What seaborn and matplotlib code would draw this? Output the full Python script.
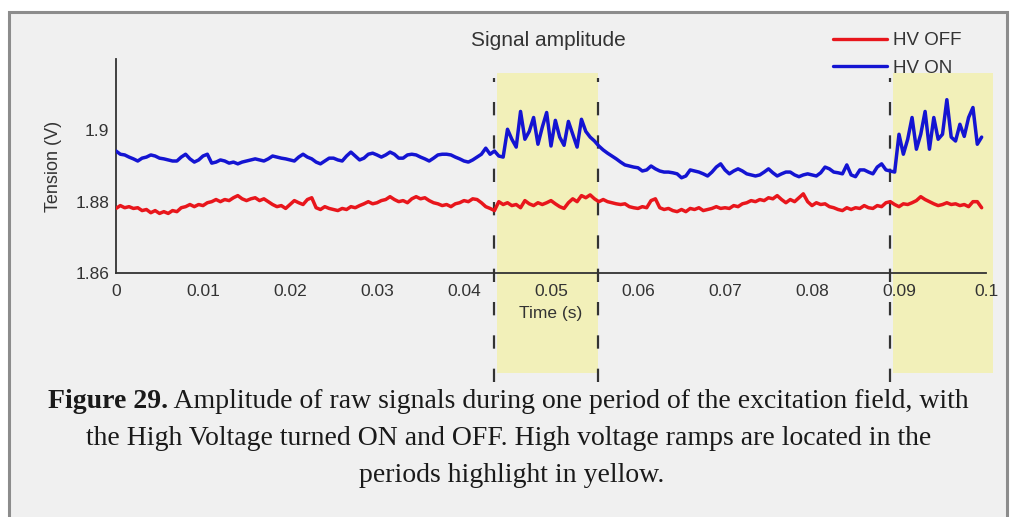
import numpy as np
import pandas as pd
import matplotlib
matplotlib.use("Agg")
import matplotlib.pyplot as plt
import seaborn as sns
from matplotlib.patches import Rectangle
from matplotlib.lines import Line2D

# =====================
# DATA (read off the scope capture, one sample every 0.5 ms)
# =====================
time_step = 0.0005
n_samples = 200

hv_off = [
    1.8781, 1.8789, 1.8783, 1.8786, 1.8781, 1.8783, 1.8775, 1.8778, 1.8769, 1.8775,
    1.8767, 1.8772, 1.8767, 1.8775, 1.8772, 1.8783, 1.8786, 1.8792, 1.8786, 1.8792,
    1.8789, 1.8797, 1.8800, 1.8806, 1.8800, 1.8806, 1.8803, 1.8811, 1.8817, 1.8808,
    1.8803, 1.8808, 1.8811, 1.8803, 1.8808, 1.8800, 1.8792, 1.8786, 1.8789, 1.8781,
    1.8792, 1.8803, 1.8797, 1.8792, 1.8806, 1.8811, 1.8783, 1.8778, 1.8786, 1.8781,
    1.8778, 1.8775, 1.8781, 1.8778, 1.8786, 1.8783, 1.8789, 1.8794, 1.8800, 1.8794,
    1.8797, 1.8803, 1.8806, 1.8814, 1.8806, 1.8800, 1.8803, 1.8797, 1.8808, 1.8814,
    1.8808, 1.8811, 1.8803, 1.8797, 1.8794, 1.8789, 1.8792, 1.8786, 1.8794, 1.8797,
    1.8803, 1.8800, 1.8808, 1.8806, 1.8797, 1.8786, 1.8781, 1.8775, 1.8800, 1.8792,
    1.8797, 1.8789, 1.8792, 1.8783, 1.8803, 1.8794, 1.8789, 1.8797, 1.8792, 1.8797,
    1.8803, 1.8794, 1.8786, 1.8781, 1.8797, 1.8808, 1.8800, 1.8817, 1.8811, 1.8819,
    1.8808, 1.8800, 1.8806, 1.8800, 1.8797, 1.8794, 1.8792, 1.8794, 1.8786, 1.8783,
    1.8781, 1.8786, 1.8783, 1.8803, 1.8808, 1.8783, 1.8778, 1.8781, 1.8775, 1.8772,
    1.8778, 1.8772, 1.8781, 1.8778, 1.8783, 1.8775, 1.8778, 1.8781, 1.8786, 1.8781,
    1.8783, 1.8781, 1.8789, 1.8786, 1.8794, 1.8797, 1.8803, 1.8800, 1.8806, 1.8803,
    1.8811, 1.8808, 1.8817, 1.8806, 1.8797, 1.8806, 1.8800, 1.8811, 1.8822, 1.8800,
    1.8789, 1.8797, 1.8792, 1.8794, 1.8786, 1.8783, 1.8778, 1.8775, 1.8783, 1.8778,
    1.8783, 1.8781, 1.8789, 1.8783, 1.8781, 1.8789, 1.8786, 1.8797, 1.8800, 1.8792,
    1.8786, 1.8794, 1.8792, 1.8797, 1.8803, 1.8814, 1.8806, 1.8800, 1.8794, 1.8789,
    1.8792, 1.8797, 1.8792, 1.8794, 1.8789, 1.8792, 1.8786, 1.8800, 1.8800, 1.8783,
]

hv_on = [
    1.8942, 1.8933, 1.8931, 1.8925, 1.8920, 1.8914, 1.8922, 1.8925, 1.8931, 1.8928,
    1.8922, 1.8920, 1.8917, 1.8914, 1.8914, 1.8925, 1.8933, 1.8920, 1.8911, 1.8917,
    1.8928, 1.8933, 1.8908, 1.8911, 1.8917, 1.8914, 1.8908, 1.8911, 1.8906, 1.8911,
    1.8914, 1.8917, 1.8920, 1.8917, 1.8914, 1.8920, 1.8928, 1.8925, 1.8922, 1.8920,
    1.8917, 1.8914, 1.8925, 1.8933, 1.8925, 1.8920, 1.8911, 1.8906, 1.8914, 1.8922,
    1.8922, 1.8917, 1.8914, 1.8928, 1.8939, 1.8928, 1.8917, 1.8922, 1.8933, 1.8936,
    1.8931, 1.8925, 1.8931, 1.8939, 1.8933, 1.8922, 1.8922, 1.8931, 1.8933, 1.8931,
    1.8925, 1.8920, 1.8914, 1.8922, 1.8931, 1.8933, 1.8933, 1.8931, 1.8925, 1.8920,
    1.8914, 1.8911, 1.8917, 1.8925, 1.8933, 1.8950, 1.8933, 1.8942, 1.8928, 1.8925,
    1.9003, 1.8975, 1.8953, 1.9053, 1.8975, 1.8997, 1.9036, 1.8961, 1.9009, 1.9050,
    1.8956, 1.9028, 1.8981, 1.8958, 1.9025, 1.8989, 1.8953, 1.9031, 1.8997, 1.8981,
    1.8970, 1.8956, 1.8945, 1.8936, 1.8928, 1.8920, 1.8911, 1.8903, 1.8900, 1.8897,
    1.8895, 1.8886, 1.8889, 1.8900, 1.8892, 1.8886, 1.8883, 1.8883, 1.8881, 1.8878,
    1.8867, 1.8872, 1.8889, 1.8886, 1.8883, 1.8878, 1.8872, 1.8883, 1.8897, 1.8906,
    1.8889, 1.8878, 1.8886, 1.8892, 1.8886, 1.8878, 1.8875, 1.8872, 1.8875, 1.8883,
    1.8892, 1.8881, 1.8872, 1.8878, 1.8883, 1.8883, 1.8875, 1.8870, 1.8875, 1.8878,
    1.8875, 1.8872, 1.8881, 1.8897, 1.8892, 1.8883, 1.8881, 1.8878, 1.8903, 1.8875,
    1.8870, 1.8889, 1.8889, 1.8883, 1.8878, 1.8897, 1.8906, 1.8889, 1.8886, 1.8883,
    1.8989, 1.8933, 1.8975, 1.9036, 1.8947, 1.8989, 1.9053, 1.8947, 1.9036, 1.8975,
    1.8989, 1.9086, 1.8981, 1.8970, 1.9017, 1.8983, 1.9036, 1.9064, 1.8961, 1.8981,
]

x_ticks = [0, 0.01, 0.02, 0.03, 0.04, 0.05, 0.06, 0.07, 0.08, 0.09, 0.1]
x_tick_labels = ["0", "0.01", "0.02", "0.03", "0.04", "0.05", "0.06", "0.07", "0.08", "0.09", "0.1"]
y_ticks = [1.86, 1.88, 1.9]
y_tick_labels = ["1.86", "1.88", "1.9"]

# high voltage ramps (s): highlighted windows and the dashed markers
ramp_windows = [(0.0438, 0.0554), (0.0893, 0.1008)]
ramp_marks = [0.04345, 0.0554, 0.0890]

colors = {"HV OFF": "#e8161c", "HV ON": "#1414d2"}

# =====================
# PLOT
# =====================
sns.set_style("white")
plt.rcParams["font.family"] = ["Liberation Sans", "DejaVu Sans"]

W, H = 1013, 517
fig = plt.figure(figsize=(W / 100, H / 100), dpi=100, facecolor="white")

# grey page box around the figure (open at the bottom)
fig.patches.append(Rectangle((9 / W, -0.05), (1007 - 9) / W, 1.05 - 12 / H,
                             transform=fig.transFigure, facecolor="#f0f0f0",
                             edgecolor="#8c8c8c", lw=2.2, zorder=-5))

ax = fig.add_axes([116 / W, 244 / H, 870 / W, 214 / H])
ax.set_facecolor("none")

time = np.arange(n_samples) * time_step
df = pd.DataFrame({"time": time, "HV OFF": hv_off, "HV ON": hv_on})
long = df.melt(id_vars="time", var_name="signal", value_name="tension")

sns.lineplot(data=long, x="time", y="tension", hue="signal", palette=colors,
             lw=2.5, ax=ax, legend=False, zorder=3)

# yellow highlight of the ramp periods, spilling past the axes
for t0, t1 in ramp_windows:
    ax.add_patch(Rectangle((t0, 1.832), t1 - t0, 1.916 - 1.832, facecolor="#f3f0b6",
                           edgecolor="none", alpha=0.95, clip_on=False, zorder=0.5))
for t in ramp_marks:
    ax.axvline(t, ymin=-0.51, ymax=0.913, color="#333333", lw=1.6,
               dashes=(6, 9), clip_on=False, zorder=2)

ax.set_xlim(0, 0.1)
ax.set_ylim(1.86, 1.92)
ax.set_xticks(x_ticks)
ax.set_xticklabels(x_tick_labels)
ax.set_yticks(y_ticks)
ax.set_yticklabels(y_tick_labels)
ax.tick_params(direction="in", length=6, width=1.2, color="#333333",
               labelsize=12.5, labelcolor="#333333")
ax.tick_params(axis="x", pad=8)
ax.tick_params(axis="y", pad=5)
for side in ["top", "right"]:
    ax.spines[side].set_visible(False)
for side in ["left", "bottom"]:
    ax.spines[side].set_color("#333333")
    ax.spines[side].set_linewidth(1.3)

ax.set_xlabel("Time (s)", fontsize=12.5, color="#333333", va="top")
ax.xaxis.set_label_coords(0.5, -0.152)
ax.set_ylabel("Tension (V)", fontsize=13, color="#333333", va="center")
ax.yaxis.set_label_coords(-0.072, 0.5)

fig.text(548 / W, 1 - 40 / H, "Signal amplitude", fontsize=15, color="#333333",
         ha="center", va="center")

handles = [Line2D([], [], color=colors[k], lw=2.4) for k in ["HV OFF", "HV ON"]]
fig.legend(handles, ["HV OFF", "HV ON"], loc="upper right",
           bbox_to_anchor=(961 / W, 1 - 32 / H), frameon=False, fontsize=13.5,
           handlelength=2.9, handletextpad=0.3, labelspacing=0.55,
           borderaxespad=0, borderpad=0, labelcolor="#333333")

# =====================
# CAPTION
# =====================
cap = dict(family=["Liberation Serif", "DejaVu Serif"], fontsize=20, color="#1a1a1a")
t1 = fig.text(48 / W, 1 - 408 / H, "Figure 29.", fontweight="bold", va="baseline", **cap)
ax.annotate(" Amplitude of raw signals during one period of the excitation field, with",
            xy=(1, 0), xycoords=t1, va="bottom", ha="left", annotation_clip=False, **cap)
fig.text(509 / W, 1 - 445 / H,
         "the High Voltage turned ON and OFF. High voltage ramps are located in the",
         ha="center", va="baseline", **cap)
fig.text(512 / W, 1 - 482 / H, "periods highlight in yellow.",
         ha="center", va="baseline", **cap)

fig.savefig("out.png", dpi=100, facecolor="white")
